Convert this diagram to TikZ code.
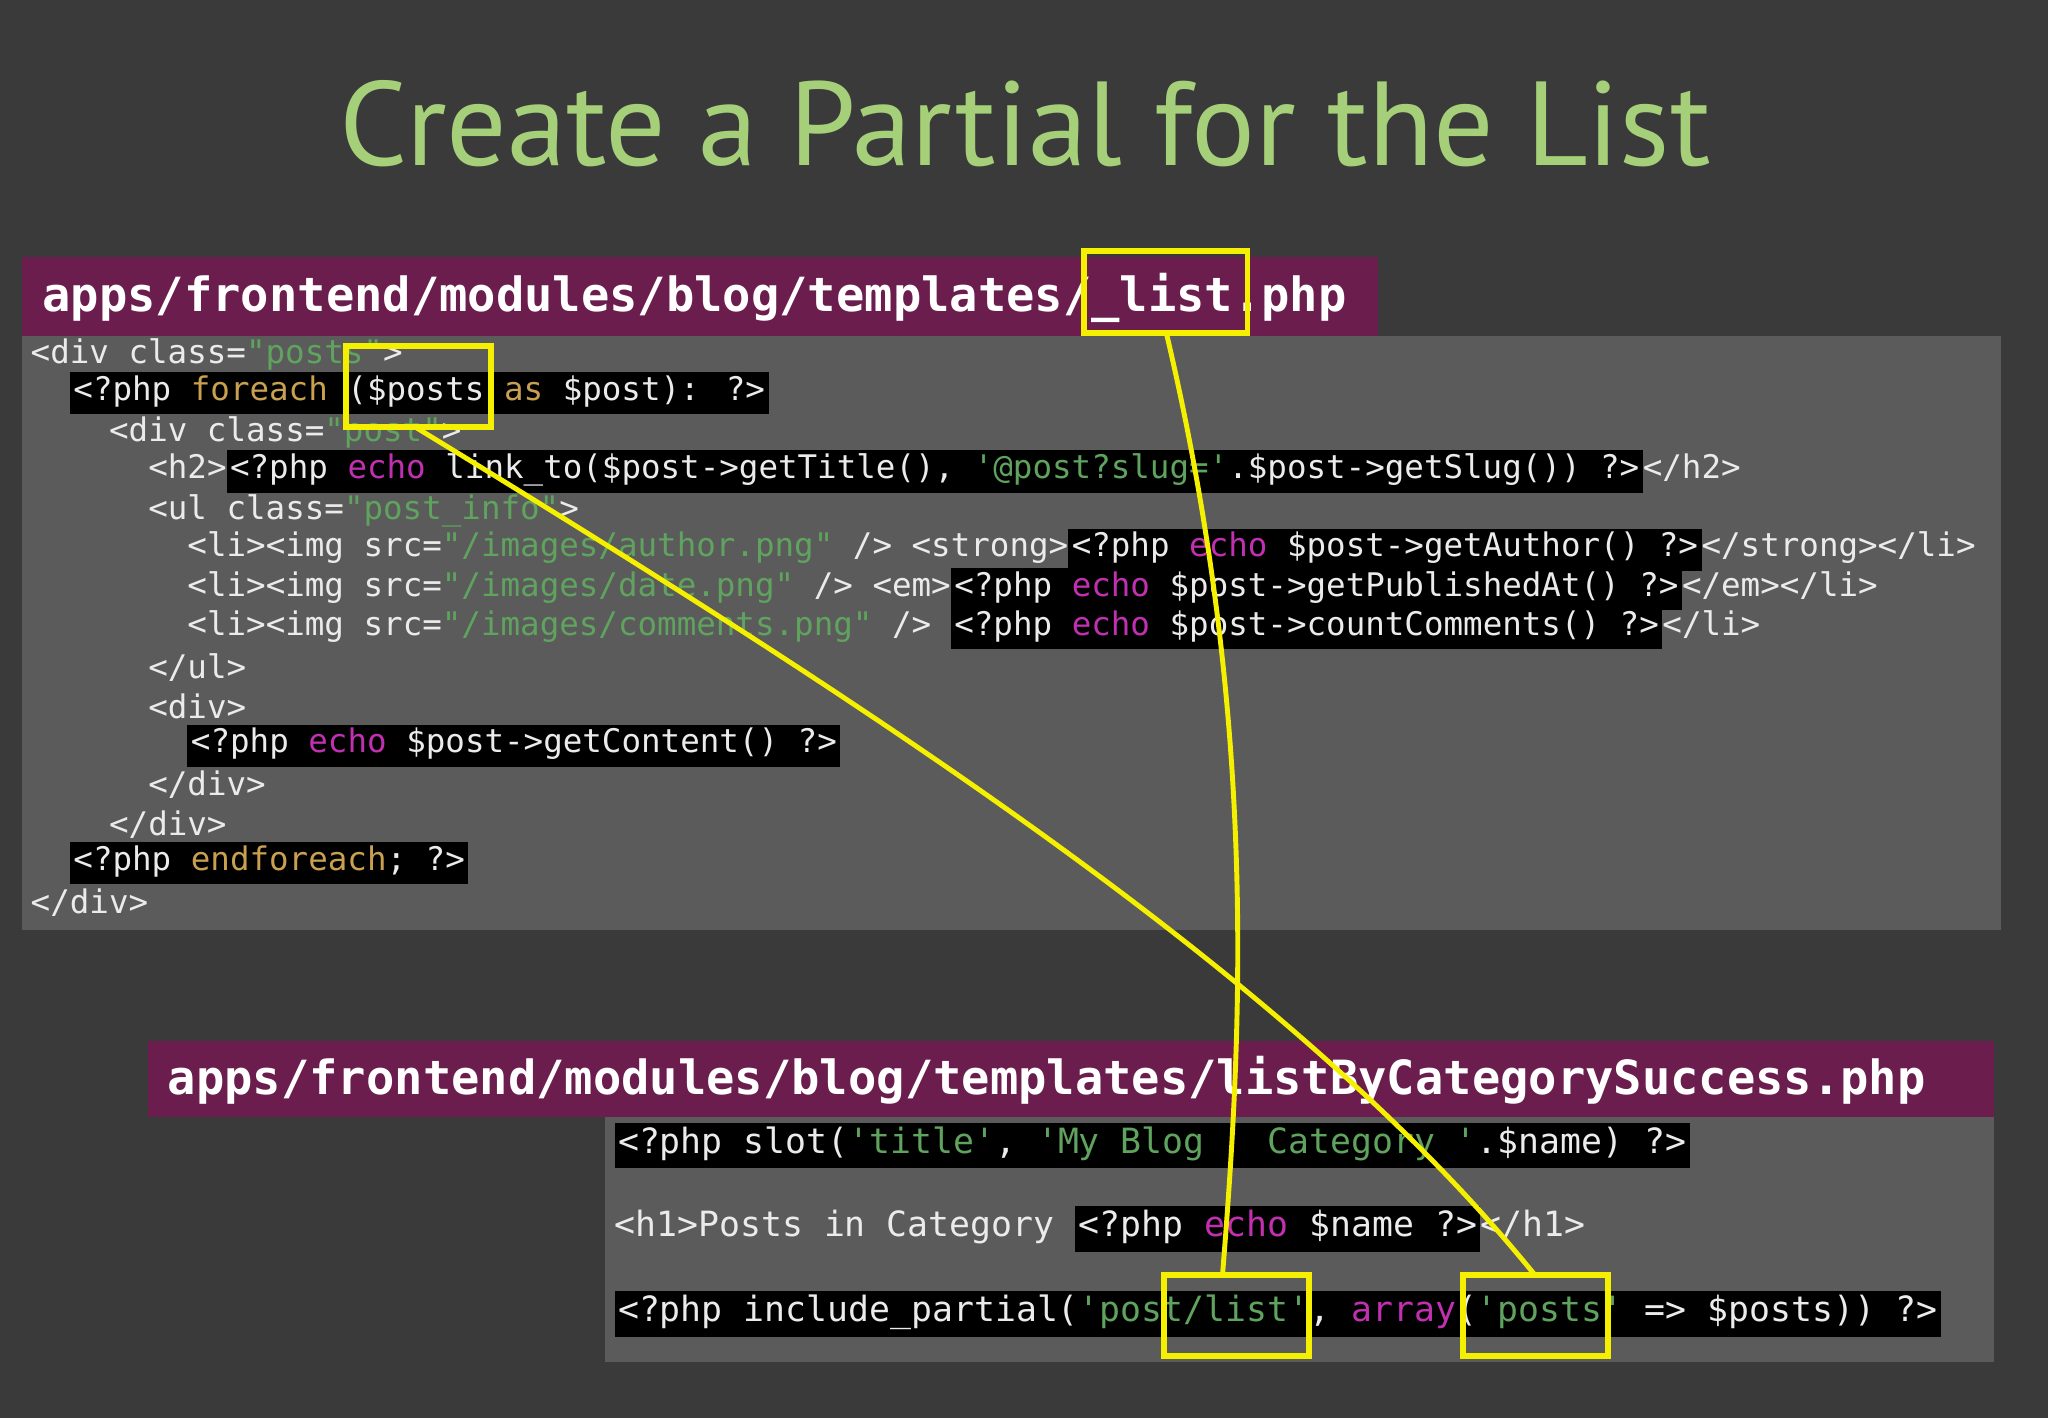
\documentclass[tikz,border=0pt]{standalone}
\usepackage{fontspec}
\setmainfont{PT Sans}
\newfontfamily\codefont{DejaVu Sans Mono}
\definecolor{bgcol}{HTML}{3A3A3A}
\definecolor{panelcol}{HTML}{5B5B5B}
\definecolor{bannercol}{HTML}{6B1E4E}
\definecolor{titlecol}{HTML}{A5CF78}
\definecolor{strcol}{HTML}{5FA35F}
\definecolor{kwcol}{HTML}{C8A050}
\definecolor{echocol}{HTML}{C030B0}
\definecolor{hlyellow}{HTML}{F5F000}
\newcommand{\hl}[1]{{\setlength\fboxsep{1pt}\colorbox{black}{\strut #1}}}
\newcommand{\strg}[1]{\textcolor{strcol}{#1}}
\newcommand{\kwd}[1]{\textcolor{kwcol}{#1}}
\newcommand{\ech}[1]{\textcolor{echocol}{#1}}
\begin{document}
\begin{tikzpicture}
[x=0.01306cm,y=-0.01306cm,
 code/.style={anchor=west,inner sep=0pt,text=white!92!black,font=\codefont\fontsize{9.25}{10}\selectfont},
 bigcode/.style={code,font=\codefont\fontsize{9.9}{11}\selectfont},
 banner/.style={anchor=west,inner sep=0pt,text=white,font=\codefont\bfseries\fontsize{13.4}{15}\selectfont},
 hlbox/.style={draw=hlyellow,line width=1.6pt},
 hlline/.style={draw=hlyellow,line width=1.4pt}]
\useasboundingbox[fill=bgcol] (0,0) rectangle (1568,1086);
\node[text=titlecol,font=\fontsize{34}{40}\selectfont] (title) at (785,95) {Create a Partial for the List};
% first template
\fill[bannercol] (17,197) rectangle (1055,257);
\fill[panelcol] (17,257) rectangle (1532,712);
\node[banner] (path1) at (32,228) {apps/frontend/modules/blog/templates/\_list.php};
\node[code] (c1) at (23,271) {<div class=\strg{"posts"}>};
\node[code] (c2) at (53,301) {\hl{<?php \kwd{foreach} (\$posts \kwd{as} \$post): ?>}};
\node[code] (c3) at (83,331) {<div class=\strg{"post"}>};
\node[code] (c4) at (113,361) {<h2>\hl{<?php \ech{echo} link\_to(\$post->getTitle(), \strg{'@post?slug='}.\$post->getSlug()) ?>}</h2>};
\node[code] (c5) at (113,391) {<ul class=\strg{"post\_info"}>};
\node[code] (c6) at (143,421) {<li><img src=\strg{"/images/author.png"} /> <strong>\hl{<?php \ech{echo} \$post->getAuthor() ?>}</strong></li>};
\node[code] (c7) at (143,451) {<li><img src=\strg{"/images/date.png"} /> <em>\hl{<?php \ech{echo} \$post->getPublishedAt() ?>}</em></li>};
\node[code] (c8) at (143,481) {<li><img src=\strg{"/images/comments.png"} /> \hl{<?php \ech{echo} \$post->countComments() ?>}</li>};
\node[code] (c9) at (113,511) {</ul>};
\node[code] (c10) at (113,541) {<div>};
\node[code] (c11) at (143,571) {\hl{<?php \ech{echo} \$post->getContent() ?>}};
\node[code] (c12) at (113,601) {</div>};
\node[code] (c13) at (83,631) {</div>};
\node[code] (c14) at (53,661) {\hl{<?php \kwd{endforeach}; ?>}};
\node[code] (c15) at (23,691) {</div>};
% second template
\fill[bannercol] (113,797) rectangle (1527,855);
\fill[panelcol] (463,855) rectangle (1527,1043);
\node[banner] (path2) at (128,827) {apps/frontend/modules/blog/templates/listByCategorySuccess.php};
\node[bigcode] (d1) at (470,877) {\hl{<?php slot(\strg{'title'}, \strg{'My Blog \ \ Category '}.\$name) ?>}};
\node[bigcode] (d2) at (470,941) {<h1>Posts in Category \hl{<?php \ech{echo} \$name ?>}</h1>};
\node[bigcode] (d3) at (470,1006) {\hl{<?php include\_partial(\strg{'post/list'}, \ech{array}(\strg{'posts'} => \$posts)) ?>}};
% highlights
\coordinate (ha1) at (830,192); \coordinate (ha2) at (955,255);
\coordinate (hb1) at (265,265); \coordinate (hb2) at (376,327);
\coordinate (hc1) at (891,976); \coordinate (hc2) at (1002,1038);
\coordinate (hd1) at (1120,976); \coordinate (hd2) at (1231,1038);
\draw[hlbox] (ha1) rectangle (ha2);
\draw[hlbox] (hb1) rectangle (hb2);
\draw[hlbox] (hc1) rectangle (hc2);
\draw[hlbox] (hd1) rectangle (hd2);
\coordinate (listbot) at (893,255);
\coordinate (postsbot) at (318,327);
\coordinate (listtop) at (936,976);
\coordinate (poststop) at (1175,976);
\draw[hlline] (listbot) .. controls (965,560) and (950,800) .. (listtop);
\draw[hlline] (postsbot) .. controls (700,560) and (1000,760) .. (poststop);
\end{tikzpicture}
\end{document}
